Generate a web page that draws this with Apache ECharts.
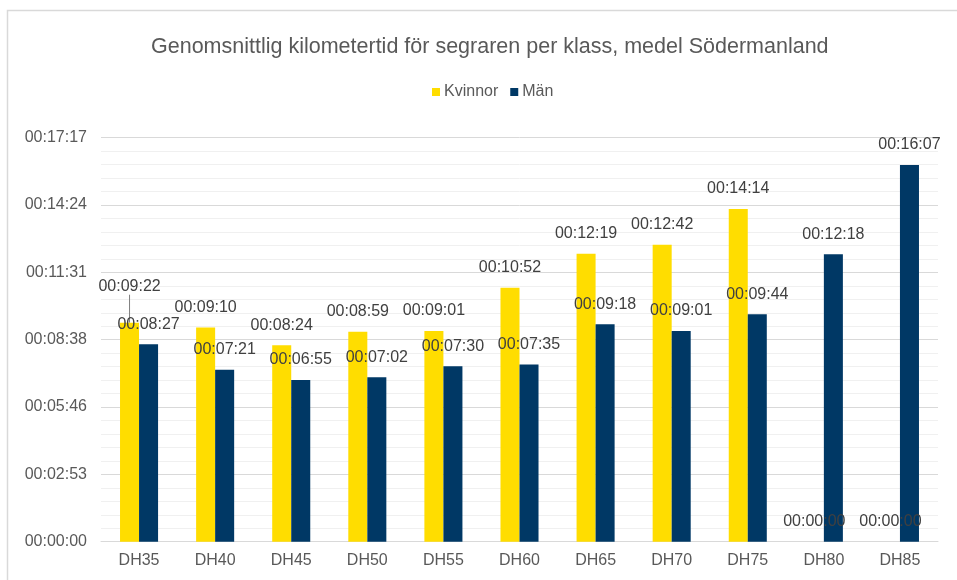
<!DOCTYPE html>
<html>
<head>
<meta charset="utf-8">
<script src="https://cdn.jsdelivr.net/npm/echarts@6/dist/echarts.min.js"></script>
<style>
html,body{margin:0;padding:0;background:#fff;}
#c{width:957px;height:580px;}
</style>
</head>
<body>
<div id="c"></div>
<script>
const categories = ['DH35','DH40','DH45','DH50','DH55','DH60','DH65','DH70','DH75','DH80','DH85'];
// seconds
const kvinnor = [562, 550, 504, 539, 541, 652, 739, 762, 854, 0, 0];
const man = [507, 441, 415, 422, 450, 455, 558, 541, 584, 738, 967];
const yTicks = ['00:00:00','00:02:53','00:05:46','00:08:38','00:11:31','00:14:24','00:17:17'];

function fmt(s){
  s = Math.round(s);
  const h = Math.floor(s/3600), m = Math.floor((s%3600)/60), sec = s%60;
  const p = n => String(n).padStart(2,'0');
  return p(h)+':'+p(m)+':'+p(sec);
}
const FONT = '"Liberation Sans", Arial, sans-serif';
const chart = echarts.init(document.getElementById('c'));
chart.setOption({
  backgroundColor:'#fff',
  animation:false,
  textStyle:{fontFamily:FONT},
  graphic:[{type:'rect',shape:{x:7.5,y:10.5,width:1200,height:1200},style:{fill:'none',stroke:'#d9d9d9',lineWidth:1.5},silent:true}],
  title:{
    text:'Genomsnittlig kilometertid för segraren per klass, medel Södermanland',
    left:146, top:31,
    textStyle:{fontFamily:FONT,fontSize:21.5,fontWeight:'normal',color:'#595959'}
  },
  legend:{
    top:79, left:427,
    icon:'rect', itemWidth:8, itemHeight:8, itemGap:12,
    textStyle:{fontFamily:FONT,fontSize:16,color:'#595959',padding:[0,0,0,-1]},
    data:['Kvinnor','Män']
  },
  grid:{left:101,right:19,top:137.7,bottom:38.3,containLabel:false},
  xAxis:{
    type:'category', data:categories,
    axisLine:{lineStyle:{color:'#d9d9d9',width:1}},
    axisTick:{show:false},
    axisLabel:{fontFamily:FONT,fontSize:16,color:'#595959',margin:11}
  },
  yAxis:{
    type:'value', min:0, max:1036.8, interval:172.8,
    axisLine:{show:false}, axisTick:{show:false},
    axisLabel:{fontFamily:FONT,fontSize:16,color:'#595959',margin:14,
      formatter:(v)=>{const i=Math.round(v/172.8);return yTicks[i]!==undefined?yTicks[i]:fmt(v);}},
    splitLine:{lineStyle:{color:'#d9d9d9',width:1}},
    minorTick:{show:false,splitNumber:5},
    minorSplitLine:{show:true,lineStyle:{color:'#f0f0f0',width:1}}
  },
  series:[
    {name:'Kvinnor',type:'bar',
     data:kvinnor.map((v,i)=> i===0 ? {value:v,labelLine:{show:true}} : {value:v,labelLine:{show:false}}),
     barGap:'0%',barCategoryGap:'50%',
     itemStyle:{color:'#FFDD00'},
     label:{show:true,position:'top',distance:12,fontFamily:FONT,fontSize:16,color:'#404040',formatter:p=>fmt(p.value)},
     labelLine:{show:false,lineStyle:{color:'#7f7f7f',width:1}},
     labelLayout:function(p){ if(p.dataIndex===0) return {dy:-16}; return {}; }
    },
    {name:'Män',type:'bar',data:man,
     itemStyle:{color:'#003865'},
     label:{show:true,position:'top',distance:12,fontFamily:FONT,fontSize:16,color:'#404040',formatter:p=>fmt(p.value)}
    }
  ]
});
</script>
</body>
</html>
